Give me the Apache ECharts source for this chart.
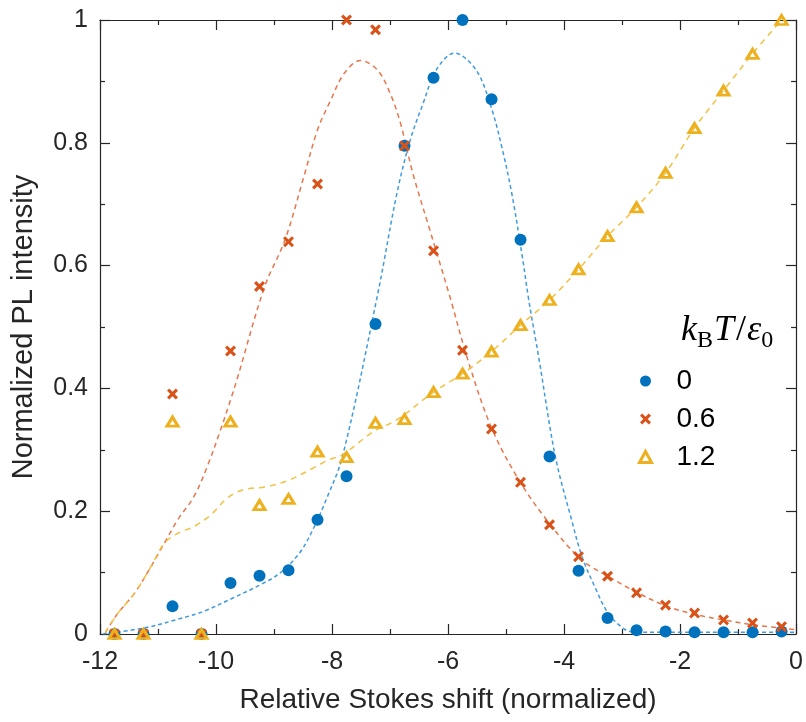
<!DOCTYPE html>
<html>
<head>
<meta charset="utf-8">
<script src="https://cdn.jsdelivr.net/npm/echarts@6/dist/echarts.min.js"></script>
<style>html,body{margin:0;padding:0;background:#fff}#c{width:806px;height:722px}</style>
</head>
<body>
<div id="c"></div>
<script>
// ---- data ----
const xVals = [-11.75, -11.25, -10.75, -10.25, -9.75, -9.25, -8.75, -8.25, -7.75, -7.25, -6.75, -6.25,
               -5.75, -5.25, -4.75, -4.25, -3.75, -3.25, -2.75, -2.25, -1.75, -1.25, -0.75, -0.25];
const seriesNames = ['0', '0.6', '1.2'];
const blueVals = [0, 0, 0.045, 0, 0.083, 0.095, 0.104, 0.186, 0.257, 0.505, 0.795, 0.906,
                  1.0, 0.871, 0.642, 0.289, 0.103, 0.026, 0.006, 0.004, 0.003, 0.003, 0.003, 0.004];
const orangeVals = [0, 0, 0.391, 0, 0.461, 0.566, 0.639, 0.733, 1.0, 0.984, 0.795, 0.624,
                    0.462, 0.334, 0.247, 0.178, 0.126, 0.094, 0.067, 0.047, 0.034, 0.023, 0.018, 0.012];
const yellowVals = [0, 0, 0.346, 0, 0.346, 0.21, 0.22, 0.297, 0.288, 0.344, 0.35, 0.394,
                    0.424, 0.46, 0.503, 0.544, 0.594, 0.648, 0.695, 0.751, 0.824, 0.885, 0.945, 1.0];

const blueFitX = [-11.95, -11.23, -10.66, -10.21, -9.70, -9.24, -8.90, -8.56, -8.33, -8.10, -7.82, -7.22,
                  -6.88, -6.65, -6.43, -6.20, -5.89, -5.52, -5.26, -5.06, -4.89, -4.72, -4.61, -4.43,
                  -4.15, -3.87, -3.69, -3.47, -3.24, -2.96, -2.78, -2.0, -1.0, 0.0];
const blueFitY = [0.0, 0.01, 0.024, 0.037, 0.059, 0.080, 0.099, 0.132, 0.170, 0.219, 0.289, 0.55,
                  0.718, 0.805, 0.864, 0.919, 0.946, 0.919, 0.859, 0.788, 0.712, 0.615, 0.545, 0.447,
                  0.289, 0.186, 0.126, 0.077, 0.034, 0.008, 0.003, 0.003, 0.003, 0.003];
const orangeFitX = [-11.91, -11.69, -11.40, -11.12, -10.89, -10.66, -10.38, -10.15, -9.92, -9.75, -9.64,
                    -9.16, -8.81, -8.47, -8.25, -8.02, -7.79, -7.51, -7.22, -7.0, -6.82, -6.60, -6.31,
                    -5.97, -5.66, -5.26, -4.78, -4.26, -3.70, -3.24, -2.73, -2.22, -1.70, -1.19, -0.74, 0.0];
const orangeFitY = [0.002, 0.034, 0.067, 0.110, 0.148, 0.186, 0.224, 0.273, 0.333, 0.381, 0.414,
                    0.566, 0.642, 0.75, 0.821, 0.870, 0.913, 0.934, 0.919, 0.881, 0.832, 0.748, 0.657,
                    0.550, 0.447, 0.338, 0.251, 0.181, 0.121, 0.094, 0.067, 0.045, 0.031, 0.022, 0.015, 0.007];
const yellowFitX = [-11.91, -11.69, -11.40, -11.12, -10.89, -10.66, -10.38, -10.09, -9.81, -9.53, -9.13,
                    -8.73, -8.33, -8.05, -7.82, -7.28, -6.88, -6.25, -5.75, -5.25, -4.75, -4.25, -3.75,
                    -3.25, -2.75, -2.25, -1.75, -1.25, -0.75, -0.25];
const yellowFitY = [0.002, 0.034, 0.067, 0.110, 0.148, 0.164, 0.175, 0.194, 0.221, 0.235, 0.240,
                    0.251, 0.270, 0.284, 0.292, 0.33, 0.349, 0.394, 0.424, 0.46, 0.503, 0.544, 0.594,
                    0.648, 0.695, 0.751, 0.824, 0.885, 0.945, 1.0];

const xTicks = [-12, -10, -8, -6, -4, -2, 0];
const yTicks = [0, 0.2, 0.4, 0.6, 0.8, 1];

// ---- styles ----
const C_BLUE = '#0072BD', C_ORANGE = '#D95319', C_YELLOW = '#EDB120';
const L_BLUE = '#3F9BDF', L_ORANGE = '#E8764B', L_YELLOW = '#F4C042';
const AXC = '#262626';
const FONT = '"Liberation Sans", Arial, sans-serif';
const SERIF = '"Liberation Serif", "DejaVu Serif", serif';
const crossPath = 'path://M2,0 L5,3 L8,0 L10,2 L7,5 L10,8 L8,10 L5,7 L2,10 L0,8 L3,5 L0,2 Z';

const zip = (xs, ys) => xs.map((x, i) => [x, ys[i]]);

const chart = echarts.init(document.getElementById('c'), null, {renderer: 'canvas'});

function mkAxis(extra) {
  return Object.assign({
    type: 'value',
    axisLine: {show: true, onZero: false, lineStyle: {color: AXC, width: 1.2}},
    axisTick: {show: true, inside: true, length: 10, lineStyle: {color: AXC, width: 1.2}},
    minorTick: {show: true, splitNumber: 2, length: 5, lineStyle: {color: AXC, width: 1.2}},
    splitLine: {show: false},
    minorSplitLine: {show: false}
  }, extra);
}

chart.setOption({
  animation: false,
  backgroundColor: '#fff',
  grid: {left: 100, right: 3, top: 20, bottom: 88, containLabel: false},
  xAxis: [
    mkAxis({
      min: xTicks[0], max: xTicks[xTicks.length - 1], interval: 2, position: 'bottom',
      axisLabel: {color: AXC, fontSize: 25, fontFamily: FONT, margin: 16,
                  formatter: v => xTicks.includes(v) ? String(v) : ''},
      name: 'Relative Stokes shift (normalized)', nameLocation: 'middle', nameGap: 52,
      nameTextStyle: {color: AXC, fontSize: 28, fontFamily: FONT}
    }),
    mkAxis({
      min: xTicks[0], max: xTicks[xTicks.length - 1], interval: 2, position: 'top',
      axisLabel: {show: false}
    })
  ],
  yAxis: [
    mkAxis({
      min: yTicks[0], max: yTicks[yTicks.length - 1], interval: 0.2, position: 'left',
      axisLabel: {color: AXC, fontSize: 25, fontFamily: FONT, margin: 12,
                  formatter: v => String(+v.toFixed(1))},
      name: 'Normalized PL intensity', nameLocation: 'middle', nameGap: 62,
      nameTextStyle: {color: AXC, fontSize: 29, fontFamily: FONT}
    }),
    mkAxis({
      min: yTicks[0], max: yTicks[yTicks.length - 1], interval: 0.2, position: 'right',
      axisLabel: {show: false}
    })
  ],
  legend: {
    data: [
      {name: seriesNames[0], itemStyle: {color: C_BLUE}},
      {name: seriesNames[1], itemStyle: {color: C_ORANGE}},
      {name: seriesNames[2], itemStyle: {color: 'rgba(0,0,0,0)', borderColor: C_YELLOW, borderWidth: 3}}
    ],
    orient: 'vertical',
    left: 633, top: 361,
    itemWidth: 12, itemHeight: 11, itemGap: 8,
    textStyle: {color: '#000', fontSize: 28, fontFamily: FONT, lineHeight: 30, padding: [0, 0, 0, 20]},
    selectedMode: false
  },
  graphic: [{
    type: 'text', left: 681, top: 309, silent: true,
    style: {
      text: '{i|k}{s|B}{i|T}{n|/}{i|ε}{s|0}',
      rich: {
        i: {fontFamily: SERIF, fontStyle: 'italic', fontSize: 36, lineHeight: 42, verticalAlign: 'middle', fill: '#000'},
        n: {fontFamily: SERIF, fontSize: 36, lineHeight: 42, verticalAlign: 'middle', fill: '#000', padding: [0, 1, 0, 2]},
        s: {fontFamily: SERIF, fontSize: 24, lineHeight: 22, padding: [20, 1, 0, 0], verticalAlign: 'middle', fill: '#000'}
      }
    }
  }],
  series: [
    {name: 'fit0', type: 'line', data: zip(blueFitX, blueFitY), smooth: 0.35, showSymbol: false, symbol: 'none',
     lineStyle: {color: L_BLUE, width: 1.5, type: [4, 3]}, z: 2, silent: true},
    {name: 'fit0.6', type: 'line', data: zip(orangeFitX, orangeFitY), smooth: 0.35, showSymbol: false, symbol: 'none',
     lineStyle: {color: L_ORANGE, width: 1.5, type: [5, 4]}, z: 2, silent: true},
    {name: 'fit1.2', type: 'line', data: zip(yellowFitX, yellowFitY), smooth: 0.35, showSymbol: false, symbol: 'none',
     lineStyle: {color: L_YELLOW, width: 1.5, type: [6, 5]}, z: 2, silent: true},
    {name: seriesNames[0], type: 'scatter', data: zip(xVals, blueVals), symbol: 'circle', symbolSize: 12,
     itemStyle: {color: C_BLUE, opacity: 1}, z: 3},
    {name: seriesNames[1], type: 'scatter', data: zip(xVals, orangeVals), symbol: crossPath, symbolSize: 11,
     itemStyle: {color: C_ORANGE, opacity: 1}, z: 4},
    {name: seriesNames[2], type: 'scatter', data: zip(xVals, yellowVals), symbol: 'triangle', symbolSize: [11, 9],
     itemStyle: {color: 'rgba(0,0,0,0)', borderColor: C_YELLOW, borderWidth: 3, opacity: 1}, z: 5}
  ]
});
</script>
</body>
</html>
